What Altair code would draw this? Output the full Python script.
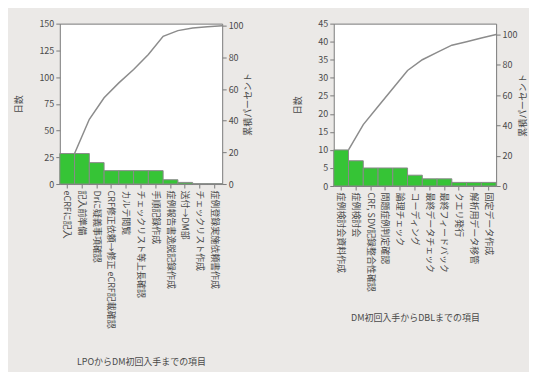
import altair as alt
import pandas as pd

left_items = ["eCRFに記入", "記入前準備", "Drに疑義事項確認", "CRF修正依頼→修正 eCRF記載確認",
              "カルテ閲覧", "チェックリスト等上長確認", "手順記録作成", "症例報告書逸脱記録作成",
              "送付→DM部", "チェックリスト作成", "症例登録実施依頼書作成"]
left_days = [28.5, 28.5, 20, 12.5, 12.5, 12.5, 12.5, 4, 1.5, 0.3, 0.3]
left_cum = [19.3, 40.9, 54.5, 63.9, 72.3, 81.8, 93.3, 96.9, 98.5, 99.4, 100]

right_items = ["症例検討会資料作成", "症例検討会", "CRF, SDV記録整合性確認", "問題症例判定確認",
               "論理チェック", "コーディング", "最終データチェック", "最終フィードバック",
               "クエリ発行", "解析用データ移管", "固定データ作成"]
right_days = [10, 7, 5, 5, 5, 3, 2, 2, 1, 1, 1]
right_cum = [23.8, 40.5, 52.4, 64.3, 76.2, 83.3, 88.1, 92.9, 95.2, 97.6, 100]

GREEN = "#36c436"
FONT = "Noto Sans CJK JP"
TXT = "#4a4a4a"


def pareto(items, days, cum, ymax, yticks, cummax, xtitle, xpad, rpad, h):
    df = pd.DataFrame({"item": items, "days": days, "cum": cum})
    xscale = alt.Scale(paddingInner=0, paddingOuter=0)
    bars = alt.Chart(df).mark_bar(color=GREEN, stroke="#8a8a8a", strokeWidth=1).encode(
        x=alt.X("item:N", sort=items, title=xtitle, scale=xscale,
                axis=alt.Axis(labelAngle=90, labelFontSize=9, titleFontSize=9,
                              titlePadding=xpad, tickSize=4, labelPadding=2,
                              domain=False, titleFontWeight="normal")),
        y=alt.Y("days:Q", scale=alt.Scale(domain=[0, ymax], nice=False),
                axis=alt.Axis(values=yticks, title="日数", grid=False, tickSize=4,
                              labelFontSize=9, titleFontSize=9, titlePadding=15,
                              domain=False, titleFontWeight="normal")),
    )
    line = alt.Chart(df).mark_line(color="#8c8c8c", strokeWidth=1.5).encode(
        x=alt.X("item:N", sort=items, bandPosition=1),
        y=alt.Y("cum:Q", scale=alt.Scale(domain=[0, cummax], nice=False),
                axis=alt.Axis(orient="right", title="累積パーセント", values=[0, 20, 40, 60, 80, 100],
                              titleAngle=270, grid=False, tickSize=4, labelFontSize=9,
                              titleFontSize=9, titlePadding=rpad, domain=False,
                              titleFontWeight="normal")),
    )
    return alt.layer(bars, line).resolve_scale(y="independent").properties(width=163, height=h)


left = pareto(left_items, left_days, left_cum, 150, [0, 25, 50, 75, 100, 125, 150], 101.3,
              "LPOからDM初回入手までの項目", 29, 9, 161)
right = pareto(right_items, right_days, right_cum, 45, list(range(0, 50, 5)), 107.1,
               "DM初回入手からDBLまでの項目", 22, 11, 163)

chart = alt.hconcat(left, right, spacing=40).properties(
    background="#ebe9e7",
    padding={"left": 6, "top": 10, "right": 0, "bottom": 4},
).configure_view(
    fill="white", stroke="#7a7a7a", strokeWidth=1
).configure_axis(
    labelFont=FONT, titleFont=FONT, labelColor=TXT, titleColor=TXT,
    tickColor="#7a7a7a"
)

chart.save("out.html", embed_options={"renderer": "svg", "actions": False})
